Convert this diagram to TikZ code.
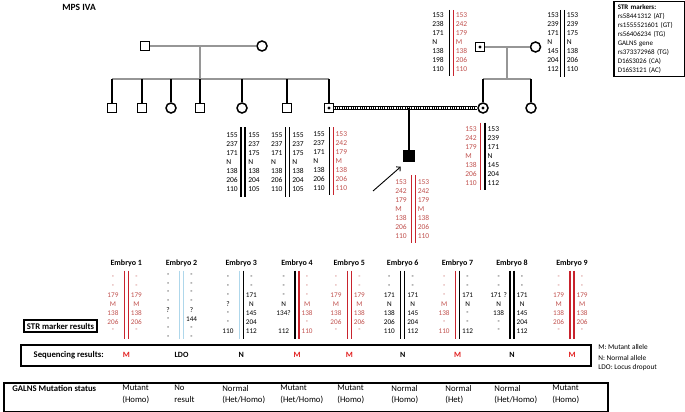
\documentclass[tikz,border=0pt]{standalone}
\usepackage{fontspec}
\setmainfont{Carlito}
\usetikzlibrary{arrows.meta,positioning,calc}
\tikzset{every picture/.style={line width=0.75pt}}

\definecolor{mutred}{RGB}{192,80,77}
\definecolor{barred}{RGB}{200,35,45}
\definecolor{seqred}{RGB}{225,30,30}
\definecolor{famgray}{RGB}{150,150,150}
\definecolor{ltblue}{RGB}{175,215,235}

\tikzset{
  male/.style={draw, line width=1.5pt, minimum size=9pt, inner sep=0pt},
  female/.style={draw, circle, line width=1.5pt, minimum size=10pt, inner sep=0pt},
  carm/.style={male, path picture={\fill (path picture bounding box.center) circle (1.7pt);}},
  carf/.style={female, path picture={\fill (path picture bounding box.center) circle (1.7pt);}},
  affm/.style={male, fill=black},
  famline/.style={famgray, line width=1.3pt},
  kin/.style={black, line width=1.3pt},
  consang/.style={line width=3.6pt, postaction={draw=white, line width=1.2pt, dash pattern=on 0.9pt off 0.9pt}},
  bar/.style={line width=1.5pt},
  num/.style={font=\fontsize{7.5}{8}\selectfont, inner sep=0pt, anchor=west},
  mut/.style={text=mutred},
  nrm/.style={text=black},
  emb/.style={font=\fontsize{7.2}{8}\selectfont, inner sep=0pt, text width=20pt, align=center},
  embL/.style={emb, anchor=east},
  embR/.style={emb, anchor=west},
  embhead/.style={font=\bfseries\fontsize{8}{9}\selectfont},
  box/.style={draw, line width=1.6pt},
  boxtxt/.style={font=\bfseries\fontsize{8.7}{10}\selectfont},
  seqtxt/.style={font=\bfseries\fontsize{8}{9}\selectfont},
  legend/.style={font=\fontsize{7.3}{8}\selectfont, anchor=west, inner sep=0pt},
  stat/.style={font=\fontsize{8.7}{11.5}\selectfont, anchor=north west, align=left, inner sep=0pt}
}

% 一列等位基因
\newcommand{\allelecol}[6]{%
  \foreach \v [count=\i] in {#6}
    \node[#5] (#1\i) at (#2,{#3+#4*(\i-1)}) {\v};
}
% 胚胎: 编号, 左竖线x, 竖线颜色, 文字样式, 起始y, 两列
\newcommand{\embryo}[9]{%
  \node[embhead] (e#1) at (#2+2,263) {Embryo #1};
  \draw[bar,#3] (#2,270.7) -- (#2,339.3);
  \draw[bar,#4] (#2+4,270.7) -- (#2+4,339.3);
  \allelecol{e#1l}{#2-1}{#7}{8.85}{embL,#5}{#8}
  \allelecol{e#1r}{#2+1.7}{#7}{8.85}{embR,#6}{#9}
}

\begin{document}
\begin{tikzpicture}[x=1pt, y=-1pt]
    \useasboundingbox (0,0) rectangle (685,412);

    \node[font=\bfseries\fontsize{9.5}{11}\selectfont, anchor=west, inner sep=0pt] (title) at (62,7) {MPS IVA};

    % 第一代
    \node[male] (gf) at (145,46) {};
    \node[female] (gm) at (262,46) {};
    \draw[famline] (gf) -- (gm);
    \coordinate (gmid) at (200,46);
    \coordinate (gsib) at (200,79);
    \draw[famline] (gmid) -- (gsib);
    \coordinate (sibL) at (112,79);
    \coordinate (sibR) at (329,79);
    \draw[famline] (sibL) -- (sibR);
    \foreach \x/\s [count=\i] in {112/male,142/male,171/female,200/male,242/female,287/male,329/carm} {
        \node[\s] (c\i) at (\x,108) {};
        \draw[kin] (c\i) -- (c\i.north |- gsib);
    }

    % 配偶一方
    \node[carm] (rf) at (480,47) {};
    \node[female] (rm) at (535.5,47) {};
    \draw[famline] (rf) -- (rm);
    \coordinate (rmid) at (507,47);
    \coordinate (rsib) at (507,79);
    \draw[famline] (rmid) -- (rsib);
    \node[carf] (cf) at (483,108) {};
    \node[female] (cs) at (531,108) {};
    \draw[famline] (cf.north |- rsib) -- (cs.north |- rsib);
    \draw[kin] (cf) -- (cf.north |- rsib);
    \draw[kin] (cs) -- (cs.north |- rsib);

    % 夫妇和患儿
    \draw[consang] (c7) -- (cf);
    \coordinate (cmid) at (409,108);
    \node[affm, minimum size=10pt] (son) at (409,156) {};
    \draw[kin] (cmid) -- (son);
    \coordinate (arw) at (373,191);
    \draw[-{Straight Barb[length=3pt]}, line width=0.9pt] (arw) -- ([shift={(-2.5,5)}]son.south west);

    % STR 位点 (祖父母)
    \allelecol{fa}{432}{15}{9}{num}{153,238,171,N,138,198,110}
    \draw[bar] (449.3,10) -- (449.3,76);
    \draw[bar,barred] (453.5,10) -- (453.5,76);
    \allelecol{fb}{455.5}{15}{9}{num,mut}{153,242,179,M,138,206,110}

    \allelecol{ma}{547}{15}{9}{num}{153,239,171,N,145,204,112}
    \draw[bar] (560.5,10) -- (560.5,77);
    \draw[bar] (564.5,10) -- (564.5,77);
    \allelecol{mb}{566.5}{15}{9}{num}{153,239,175,N,138,206,110}

    % STR 位点 (第二代)
    \allelecol{pa}{226}{135}{9}{num}{155,237,171,N,138,206,110}
    \draw[bar] (241,127) -- (241,197);
    \draw[bar] (245,127) -- (245,197);
    \allelecol{pb}{248}{135}{9}{num}{155,237,175,N,138,204,105}

    \allelecol{qa}{270.7}{135}{9}{num}{155,237,171,N,138,206,110}
    \draw[bar] (285.3,127) -- (285.3,197);
    \draw[bar] (289.3,127) -- (289.3,197);
    \allelecol{qb}{292}{135}{9}{num}{155,237,175,N,138,204,105}

    \allelecol{ra}{313}{134}{9}{num}{155,237,171,N,138,206,110}
    \draw[bar] (329.3,127) -- (329.3,195);
    \draw[bar,barred] (333.3,127) -- (333.3,195);
    \allelecol{rb}{335.3}{134}{9}{num,mut}{153,242,179,M,138,206,110}

    \allelecol{sa}{465}{129}{9}{num,mut}{153,242,179,M,138,206,110}
    \draw[bar,barred] (480.3,122.7) -- (480.3,190);
    \draw[bar] (485,122.7) -- (485,190);
    \allelecol{sb}{487.3}{129}{9}{num}{153,239,171,N,145,204,112}

    \allelecol{ta}{395}{182}{9}{num,mut}{153,242,179,M,138,206,110}
    \draw[bar,barred] (411.7,175) -- (411.7,243);
    \draw[bar,barred] (415.5,175) -- (415.5,243);
    \allelecol{tb}{417.5}{182}{9}{num,mut}{153,242,179,M,138,206,110}

    % STR 标记框
    \node[draw, line width=1.5pt, anchor=north west, align=left, text width=63pt, inner xsep=4pt, inner ysep=2.5pt,
          font=\fontsize{7}{9.1}\selectfont] (markers) at (613,1)
        {\textbf{STR markers:}\\rs58441312 (AT)\\rs1555521601 (GT)\\rs56406234 (TG)\\GALNS gene\\rs373372968 (TG)\\D16S3026 (CA)\\D16S3121 (AC)};

    % 胚胎
    \embryo{1}{124.3}{barred}{barred}{mut}{mut}{277.7}{-,-,179,M,138,206,-}{-,-,179,M,138,206,-}
    \embryo{2}{179.5}{ltblue}{ltblue}{nrm}{nrm}{275}{-,-,-,-,?,-,-,-}{-,-,-,-,?,144,-,-}
    \embryo{3}{239.3}{ltblue}{black}{nrm}{nrm}{277.7}{-,-,-,?,-,-,110}{-,-,171,N,145,204,112}
    \embryo{4}{295}{black}{barred}{nrm}{mut}{277.7}{-,-,-,N,134?,{},112}{-,-,-,M,138,-,110}
    \embryo{5}{347.3}{barred}{barred}{mut}{mut}{277.7}{-,-,179,M,138,206,-}{-,-,179,M,138,206,-}
    \embryo{6}{400.7}{black}{black}{nrm}{nrm}{277.7}{-,-,171,N,138,206,110}{-,-,171,N,145,204,112}
    \embryo{7}{455.5}{barred}{black}{mut}{nrm}{277.7}{-,-,-,M,138,-,110}{-,-,171,N,-,-,112}
    \embryo{8}{510}{black}{black}{nrm}{nrm}{277.7}{-,-,171 ?,N,138,-,-}{-,-,171,N,145,204,112}
    \embryo{9}{570}{barred}{barred}{mut}{mut}{277.7}{-,-,179,M,138,206,-}{-,-,179,M,138,206,-}

    \node[box, boxtxt, inner xsep=3pt, inner ysep=3pt] (strres) at (60.5,326) {STR marker results};

    % 测序结果
    \node[box, anchor=north west, minimum width=570pt, minimum height=21pt] (seqbox) at (20,344) {};
    \node[boxtxt, anchor=west] (seqlbl) at ([xshift=10pt]seqbox.west) {Sequencing results:};
    \foreach \r/\c [count=\n] in {M/seqred,LDO/black,N/black,M/seqred,M/seqred,N/black,M/seqred,N/black,M/seqred}
        \node[seqtxt, text=\c] (s\n) at (e\n |- seqbox) {\r};

    \node[legend] (lgm) at (598,347) {M: Mutant allele};
    \node[legend] (lgn) at (598,357.5) {N: Normal allele};
    \node[legend] (lgl) at (598,368) {LDO: Locus dropout};

    % GALNS 突变状态
    \node[box, anchor=north west, minimum width=604pt, minimum height=29pt] (galns) at (3,382) {};
    \node[boxtxt, anchor=north west, inner sep=0pt] (glbl) at (12,385) {GALNS Mutation status};
    \foreach \x/\a/\b [count=\n] in {122/Mutant/{(Homo)},174/No/result,222/Normal/{(Het/Homo)},280/Mutant/{(Het/Homo)},
                                      337/Mutant/{(Homo)},391/Normal/{(Homo)},445/Normal/{(Het)},494/Normal/{(Het/Homo)},552/Mutant/{(Homo)}}
        \node[stat] (g\n) at (\x,385) {\a\\\b};
\end{tikzpicture}
\end{document}
